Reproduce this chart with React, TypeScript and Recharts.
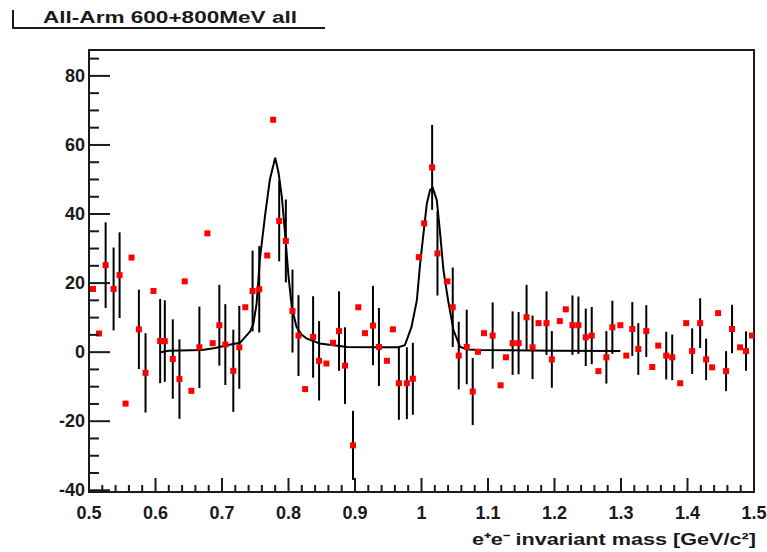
import { ComposedChart, Scatter, Line, XAxis, YAxis, ErrorBar, ReferenceArea } from "recharts";

// e+e- invariant mass bins (GeV/c^2)
const massBins = [
  0.506, 0.515, 0.525, 0.537, 0.546, 0.555, 0.564, 0.575, 0.585, 0.597,
  0.607, 0.614, 0.626, 0.636, 0.644, 0.654, 0.666, 0.678, 0.686, 0.696,
  0.705, 0.717, 0.726, 0.735, 0.746, 0.756, 0.768, 0.777, 0.786, 0.796,
  0.806, 0.815, 0.825, 0.837, 0.846, 0.857, 0.867, 0.876, 0.885, 0.897,
  0.905, 0.915, 0.927, 0.936, 0.948, 0.957, 0.966, 0.978, 0.987, 0.996,
  1.004, 1.016, 1.024, 1.039, 1.047, 1.056, 1.068, 1.077, 1.085, 1.094,
  1.107, 1.119, 1.127, 1.137, 1.146, 1.158, 1.167, 1.176, 1.188, 1.196,
  1.208, 1.217, 1.227, 1.236, 1.247, 1.256, 1.266, 1.278, 1.287, 1.299,
  1.308, 1.317, 1.326, 1.338, 1.347, 1.356, 1.368, 1.377, 1.389, 1.398,
  1.407, 1.419, 1.428, 1.437, 1.446, 1.458, 1.467, 1.479, 1.488, 1.497,
];

const counts = [
  18.3, 5.4, 25.2, 18.3, 22.3, -14.9, 27.4, 6.6, -6.0, 17.7,
  3.2, 3.2, -2, -7.8, 20.5, -11.2, 1.4, 34.4, 2.6, 7.8,
  2.2, -5.4, 1.4, 13, 17.7, 18.2, 28, 67.3, 38, 32.2,
  11.9, 4.8, -10.7, 4.4, -2.5, -3.3, 2.7, 6.1, -3.9, -27,
  13, 5.5, 7.7, 1.5, -2.5, 6.6, -9, -9, -7.7, 27.5,
  37.3, 53.5, 28.6, 20.5, 13, -1, 1.5, -11.4, 0.1, 5.5,
  4.8, -9.6, -1.5, 2.6, 2.6, 10.1, 1.4, 8.4, 8.4, -2.1,
  9, 12.4, 7.8, 7.8, 4.3, 4.8, -5.5, -1.5, 7.2, 7.8,
  -1, 6.7, 0.9, 6.1, -4.3, 1.9, -1, -1.5, -9, 8.4,
  0.3, 8.4, -2.1, -4.4, 11.3, -5.5, 6.7, 1.4, 0.3, 4.8,
];

const errors = [
  0, 0, 12.4, 12, 12.4, 0, 0, 11.5, 11.5, 0,
  12.2, 11.8, 11.5, 11.5, 0, 0, 11.8, 0, 0, 11.7,
  11.7, 11.9, 12, 0, 11.7, 12.5, 0, 0, 11.7, 12,
  12, 11.7, 0, 11.8, 11.5, 0, 0, 11.5, 11.1, 10,
  0, 0, 11.5, 11.3, 0, 0, 10.6, 10.4, 10.4, 0,
  0, 12.3, 12.2, 0, 11.5, 9.8, 10.8, 9.7, 0, 0,
  9.6, 0, 0, 9.2, 9.0, 9.4, 9.2, 0, 9.2, 8.2,
  0, 0, 8.6, 8.3, 8.3, 8.3, 0, 7.6, 7.7, 0,
  0, 7.8, 7.5, 7.5, 0, 0, 6.9, 6.6, 0, 0,
  6.6, 7.2, 6, 0, 0, 5.8, 7, 0, 5.7, 0,
];

// fit curve
const fitMass = [
  0.607, 0.62, 0.67, 0.69, 0.707, 0.727, 0.742, 0.747, 0.752, 0.757,
  0.765, 0.772, 0.78, 0.785, 0.79, 0.795, 0.8, 0.805, 0.812, 0.82,
  0.827, 0.847, 0.888, 0.93, 0.965, 0.975, 0.985, 0.993, 0.998, 1.003,
  1.008, 1.013, 1.017, 1.023, 1.028, 1.033, 1.04, 1.048, 1.058, 1.07,
  1.09, 1.2, 1.299,
];
const fitValue = [
  0, 0.4, 0.6, 1.2, 2, 2.7, 5.9, 8, 14, 27,
  40, 50, 56.3, 52, 45, 34, 22, 13, 7.3, 5,
  4, 2.5, 1.5, 1.4, 1.4, 2, 7.3, 15, 25.7, 34.4,
  43, 47, 47.5, 44, 34.4, 23.8, 15, 6.4, 1.5, 0.8,
  0.6, 0.4, 0.3,
];

const yTicks = [-40, -35, -30, -25, -20, -15, -10, -5, 0, 5, 10, 15, 20, 25, 30, 35, 40, 45, 50, 55, 60, 65, 70, 75, 80, 85];
const xTicks = Array.from({ length: 51 }, (_, i) => Math.round((0.5 + i * 0.02) * 100) / 100);

const points = massBins.map((m, i) => ({ m, n: counts[i], err: errors[i] }));
const fit = fitMass.map((m, i) => ({ m, f: fitValue[i] }));

const font = "'Liberation Sans', Arial, Helvetica, sans-serif";
const ink = "#1a1a1a";

const YTick = (props: any) => {
  const { x, y, payload } = props;
  const major = payload.value % 20 === 0;
  return (
    <g>
      <line x1={x} x2={x + (major ? 21 : 10)} y1={y} y2={y} stroke={ink} strokeWidth={2} />
      {major && (
        <text x={x - 4} y={y} dy={6} textAnchor="end" fontFamily={font} fontWeight="bold" fontSize={18} fill={ink}>
          {payload.value}
        </text>
      )}
    </g>
  );
};

const XTick = (props: any) => {
  const { x, y, payload } = props;
  const v = payload.value;
  const major = Math.abs(v * 10 - Math.round(v * 10)) < 1e-6;
  return (
    <g>
      <line x1={x} x2={x} y1={y} y2={y - (major ? 14 : 7)} stroke={ink} strokeWidth={2} />
      {major && (
        <text x={x} y={y + 27} textAnchor="middle" fontFamily={font} fontWeight="bold" fontSize={18} fill={ink}>
          {String(Number(v.toFixed(2)))}
        </text>
      )}
    </g>
  );
};

const Square = (props: any) => {
  const { cx, cy } = props;
  return <rect x={cx - 3} y={cy - 3} width={6} height={6} fill="#ff0000" />;
};

export default function App() {
  return (
    <div style={{ position: "absolute", left: 0, top: 0, width: 767, height: 552, background: "#fff" }}>
      <ComposedChart width={767} height={552} margin={{ top: 50, right: 13, bottom: 0, left: 29 }}>
        <XAxis
          type="number"
          dataKey="m"
          domain={[0.5, 1.5]}
          ticks={xTicks}
          interval={0}
          tick={<XTick />}
          tickLine={false}
          tickSize={0}
          tickMargin={0}
          height={60}
          axisLine={{ stroke: ink, strokeWidth: 2 }}
          allowDataOverflow
        />
        <YAxis
          type="number"
          domain={[-40.5, 87.5]}
          ticks={yTicks}
          interval={0}
          tick={<YTick />}
          tickLine={false}
          tickSize={0}
          tickMargin={0}
          width={60}
          axisLine={{ stroke: ink, strokeWidth: 2 }}
          allowDataOverflow
        />
        <ReferenceArea x1={0.5} x2={1.5} y1={-40.5} y2={87.5} fill="none" stroke={ink} strokeWidth={2} ifOverflow="visible" />
        <Scatter data={points} dataKey="n" shape={<Square />} isAnimationActive={false}>
          <ErrorBar dataKey="err" direction="y" width={0} stroke="#000" strokeWidth={2} isAnimationActive={false} />
        </Scatter>
        <Line data={fit} dataKey="f" type="linear" dot={false} activeDot={false} stroke="#000" strokeWidth={2} isAnimationActive={false} />
      </ComposedChart>
      <svg width={767} height={552} style={{ position: "absolute", left: 0, top: 0, pointerEvents: "none" }}>
        <polyline points="13,10 13,28 325,28" fill="none" stroke={ink} strokeWidth={2} />
        <text x={43} y={23} fontFamily={font} fontWeight="bold" fontSize={16} fill={ink} textLength={254} lengthAdjust="spacingAndGlyphs">
          All-Arm 600+800MeV all
        </text>
        <text x={756} y={545} textAnchor="end" fontFamily={font} fontWeight="bold" fontSize={16} fill={ink} textLength={284} lengthAdjust="spacingAndGlyphs">
          e⁺e⁻ invariant mass [GeV/c²]
        </text>
      </svg>
    </div>
  );
}
